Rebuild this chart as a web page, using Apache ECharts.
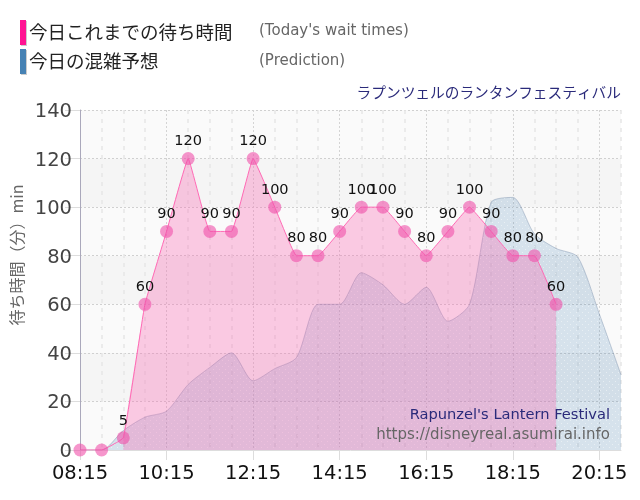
<!DOCTYPE html>
<html>
<head>
<meta charset="utf-8">
<style>html,body{margin:0;padding:0;background:#fff}#chart{width:640px;height:500px}</style>
<script src="https://cdn.jsdelivr.net/npm/echarts@6/dist/echarts.min.js"></script>
</head>
<body>
<div id="chart"></div>
<script>
// 30分刻み
var times = ['08:15','08:45','09:15','09:45','10:15','10:45','11:15','11:45','12:15','12:45','13:15','13:45','14:15','14:45','15:15','15:45','16:15','16:45','17:15','17:45','18:15','18:45','19:15','19:45','20:15','20:45'];
var waitTimes = [0,0,5,60,90,120,90,90,120,100,80,80,90,100,100,90,80,90,100,90,80,80,60,null,null,null];
var prediction = [0,0,8,13.5,16,27,34,40,28.5,33.5,38,60,60,73,68,60,67,53,60,102,104,89,83,79.5,56,31];

var jpFont = '"Noto Sans CJK JP"';
var enFont = '"DejaVu Sans"';

// 塗りは09:15から
var waitArea = waitTimes.map(function(v,i){ return i<2 ? null : v; });

function isMajor(i){ return i%4==0; }

// 予想エリアのドット
function dotPattern(){
	var c = document.createElement('canvas');
	c.width = 6; c.height = 6;
	var g = c.getContext('2d');
	g.fillStyle = 'rgba(70,130,180,0.2)';
	g.fillRect(0,0,6,6);
	g.fillStyle = 'rgba(255,255,255,0.45)';
	g.fillRect(0,0,1,1);
	g.fillRect(3,3,1,1);
	return c;
}

var myChart = echarts.init(document.getElementById('chart'), null, {renderer:'canvas'});
myChart.setOption({
	animation: false,
	grid: {left:80, right:19, top:110, bottom:50, outerBoundsMode:'none'},
	xAxis: [{
		type: 'category',
		data: times,
		boundaryGap: false,
		axisLine: {lineStyle:{color:'#ddd'}},
		axisTick: {length:10, interval:isMajor, lineStyle:{color:'#ddd'}},
		axisLabel: {interval:isMajor, color:'#111', fontFamily:enFont, fontSize:19.5, margin:14, hideOverlap:false},
		splitLine: {show:true, interval:isMajor, lineStyle:{color:'#d4d4d4', type:[2,2]}}
	},{
		// 30分ごとの薄い破線
		type: 'category',
		data: times,
		boundaryGap: false,
		position: 'bottom',
		axisLine: {show:false},
		axisTick: {show:false},
		axisLabel: {show:false},
		splitLine: {show:true, interval:function(i){return !isMajor(i)}, lineStyle:{color:'#e6e6e6', width:1.5, type:[4,5]}}
	}],
	yAxis: {
		type: 'value',
		min: 0, max: 140, interval: 20,
		axisLine: {show:true, lineStyle:{color:'#aaa8bb'}},
		axisTick: {show:true, length:15, lineStyle:{color:'#ddd'}},
		axisLabel: {color:'#444', fontFamily:enFont, fontSize:19.5, margin:8, verticalAlign:'top', lineHeight:4},
		splitLine: {show:true, lineStyle:{color:'#d0d0d0', type:[2,2]}},
		splitArea: {show:true, areaStyle:{color:['#fafafa','#f5f5f5']}}
	},
	series: [
		{
			name: '今日の混雑予想',
			type: 'line',
			data: prediction,
			smooth: 0.25,
			showSymbol: false,
			lineStyle: {color:'rgba(70,100,140,0.3)', width:1},
			areaStyle: {color:{image:dotPattern(), repeat:'repeat'}, opacity:1},
			z: 2
		},
		{
			name: '今日これまでの待ち時間 塗り',
			type: 'line',
			data: waitArea,
			smooth: 0.08,
			showSymbol: false,
			lineStyle: {width:0},
			areaStyle: {color:'rgba(250,105,180,0.34)', opacity:1},
			z: 3
		},
		{
			name: '今日これまでの待ち時間',
			type: 'line',
			data: waitTimes,
			smooth: 0.08,
			symbol: 'circle',
			symbolSize: 13,
			itemStyle: {color:'rgba(240,80,170,0.6)', borderWidth:0},
			lineStyle: {color:'#ff69b4', width:1},
			label: {
				show:true, position:'top', distance:3, color:'#111', fontFamily:enFont, fontSize:14.5,
				formatter:function(p){ return p.value>0 ? p.value : ''; }
			},
			z: 4
		}
	],
	graphic: [
		{type:'rect', shape:{x:20,y:20,width:6,height:25}, style:{fill:'#ff1493', shadowColor:'#ccc', shadowOffsetX:1, shadowOffsetY:1, shadowBlur:0}},
		{type:'rect', shape:{x:20,y:49,width:6,height:25}, style:{fill:'#4682b4', shadowColor:'#ccc', shadowOffsetX:1, shadowOffsetY:1, shadowBlur:0}},
		{type:'text', x:29, y:32, style:{text:'今日これまでの待ち時間', fill:'#222', font:'18.5px '+jpFont, textVerticalAlign:'middle'}},
		{type:'text', x:29, y:61, style:{text:'今日の混雑予想', fill:'#222', font:'18.5px '+jpFont, textVerticalAlign:'middle'}},
		{type:'text', x:259, y:31, style:{text:"(Today's wait times)", fill:'#666', font:'15px '+enFont, textVerticalAlign:'middle'}},
		{type:'text', x:259, y:61, style:{text:'(Prediction)', fill:'#666', font:'15px '+enFont, textVerticalAlign:'middle'}},
		{type:'text', x:17, y:255, rotation:Math.PI/2, style:{text:'待ち時間（分）min', fill:'#666', font:'16px '+jpFont, textAlign:'center', textVerticalAlign:'middle'}},
		{type:'text', x:621, y:92, z:10, style:{text:'ラプンツェルのランタンフェスティバル', fill:'#2a2a7a', font:'14.7px '+jpFont, textAlign:'right', textVerticalAlign:'middle'}},
		{type:'text', x:610, y:415, z:10, style:{text:"Rapunzel's Lantern Festival", fill:'#2a2a7a', font:'14.65px '+enFont, textAlign:'right', textVerticalAlign:'middle'}},
		{type:'text', x:610, y:435, z:10, style:{text:'https://disneyreal.asumirai.info', fill:'#666', font:'15px '+enFont, textAlign:'right', textVerticalAlign:'middle'}}
	]
});
</script>
</body>
</html>
